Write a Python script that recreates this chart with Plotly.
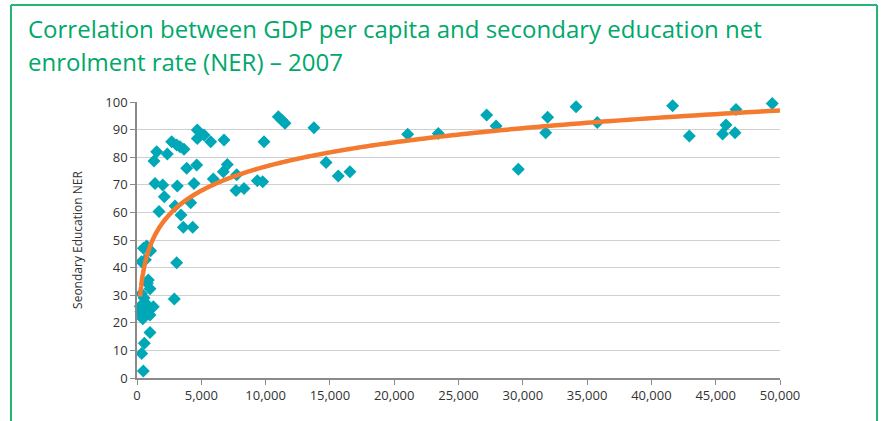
import numpy as np
import plotly.graph_objects as go

# GDP per capita (x) and secondary education NER (y)
gdp = [490, 365, 570, 1010, 250, 300, 400, 500, 600, 700, 350, 800, 550, 450, 1270, 1010,
       2900, 3085, 880, 800, 1010, 500, 750, 1060, 350, 650,
       1532, 1322, 2356, 2698, 3087, 3344, 3655, 4689, 5210, 4689, 5731, 6765, 9876,
       3865, 4642, 7022, 6711, 7753, 5933, 1400, 1998, 3134, 4432, 2123, 9355, 9775,
       7698, 8320, 1711, 2955, 3421, 4176, 3600, 4331,
       10990, 11250, 11510, 13760, 14700, 15650, 16560,
       21050, 23430, 27190, 27920, 29650, 31780, 31930, 34140, 35790,
       41650, 42950, 45540, 45800, 46500, 46580, 49400]
ner = [2.5, 8.9, 12.6, 16.5, 26.0, 24.0, 22.5, 25.0, 23.5, 27.0, 30.5, 24.0, 29.0, 21.5, 25.8, 22.8,
       28.6, 41.8, 35.5, 34.3, 32.3, 47.0, 47.8, 46.1, 42.1, 42.8,
       82.0, 78.6, 81.2, 85.6, 84.4, 83.8, 82.9, 89.9, 88.0, 86.8, 85.6, 86.2, 85.6,
       76.0, 77.2, 77.4, 74.7, 73.6, 72.1, 70.5, 69.9, 69.6, 70.5, 65.7, 71.5, 71.1,
       67.9, 68.7, 60.3, 62.3, 59.1, 63.5, 54.6, 54.6,
       94.7, 93.5, 92.3, 90.7, 78.1, 73.2, 74.7,
       88.3, 88.6, 95.3, 91.3, 75.6, 88.9, 94.5, 98.3, 92.6,
       98.6, 87.7, 88.4, 91.7, 88.9, 97.3, 99.5]

# Logarithmic trendline coefficients (y = a*ln(x) + b)
trend_a = 12.63
trend_b = -39.7
trend_x_start = 240
trend_x_end = 50000

x_ticks = [0, 5000, 10000, 15000, 20000, 25000, 30000, 35000, 40000, 45000, 50000]
y_ticks = [0, 10, 20, 30, 40, 50, 60, 70, 80, 90, 100]

title_line1 = "Correlation between GDP per capita and secondary education net"
title_line2 = "enrolment rate (NER) – 2007"
y_title = "Seondary Education NER"

tx = np.geomspace(trend_x_start, trend_x_end, 300)
ty = trend_a * np.log(tx) + trend_b

GREEN = "#22B573"
TEAL = "#00A7B7"
ORANGE = "#F47A30"
FONT = "Open Sans"

fig = go.Figure()
fig.add_trace(go.Scatter(x=gdp, y=ner, mode="markers",
                         marker=dict(symbol="diamond", size=10, color=TEAL, line=dict(width=0)),
                         showlegend=False, hoverinfo="x+y", cliponaxis=False))
fig.add_trace(go.Scatter(x=tx, y=ty, mode="lines",
                         line=dict(color=ORANGE, width=4.5, shape="spline"),
                         showlegend=False, hoverinfo="skip", cliponaxis=False))

fig.update_layout(
    width=882, height=421,
    margin=dict(l=137, r=102, t=102, b=43, autoexpand=False),
    paper_bgcolor="white", plot_bgcolor="white",
    font=dict(family=FONT, color="#333333", size=13),
    xaxis=dict(range=[0, 50000], tickvals=x_ticks, tickformat=",", showgrid=False,
               zeroline=False, showline=True, linecolor="#8a8a8a", linewidth=1.5,
               ticks="outside", ticklen=5, tickcolor="#8a8a8a", automargin=False,
               tickfont=dict(size=13, color="#333333")),
    yaxis=dict(range=[0, 100], tickvals=y_ticks, showgrid=True, gridcolor="#cfcfcf",
               gridwidth=1, zeroline=False, showline=True, linecolor="#8a8a8a", linewidth=1.5,
               ticks="outside", ticklen=5, tickcolor="#8a8a8a", automargin=False,
               tickfont=dict(size=13, color="#333333"),
               title=dict(text=y_title, font=dict(size=12, color="#333333"), standoff=20)),
    shapes=[
        dict(type="line", xref="paper", yref="paper", x0=-0.196, x1=-0.196, y0=1.3514, y1=-0.3,
             line=dict(color=GREEN, width=2)),
        dict(type="line", xref="paper", yref="paper", x0=-0.196, x1=1.1509, y0=1.3514, y1=1.3514,
             line=dict(color=GREEN, width=2)),
        dict(type="line", xref="paper", yref="paper", x0=1.1509, x1=1.1509, y0=1.3514, y1=-0.3,
             line=dict(color=GREEN, width=2)),
    ],
    annotations=[
        dict(text=title_line1, xref="paper", yref="paper", x=-0.172, y=(378 - 29) / 276,
             xanchor="left", yanchor="middle", showarrow=False,
             font=dict(family=FONT, size=24, color="#00A86B")),
        dict(text=title_line2, xref="paper", yref="paper", x=-0.172, y=(378 - 61) / 276,
             xanchor="left", yanchor="middle", showarrow=False,
             font=dict(family=FONT, size=24, color="#00A86B")),
    ],
)

fig.write_html("out.html", config={"displayModeBar": False},
               post_script="document.body.style.margin='0';document.body.style.overflow='hidden';")
